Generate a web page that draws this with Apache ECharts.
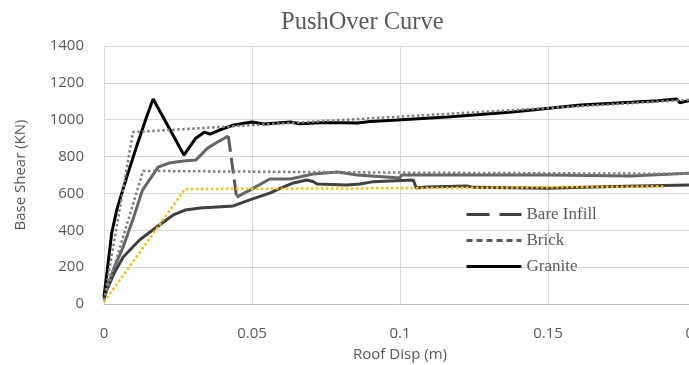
<!DOCTYPE html>
<html>
<head>
<meta charset="utf-8">
<title>PushOver Curve</title>
<script src="https://cdn.jsdelivr.net/npm/echarts@6/dist/echarts.min.js"></script>
<style>
  html, body { margin: 0; padding: 0; background: #fff; }
  #chart { width: 689px; height: 365px; }
</style>
</head>
<body>
<div id="chart"></div>
<script>
// tick values
const xTicks = [0, 0.05, 0.1, 0.15, 0.2];
const yTicks = [0, 200, 400, 600, 800, 1000, 1200, 1400];

// Granite curve
const graniteX = [0, 0.0007, 0.0026, 0.0043, 0.0077, 0.011, 0.0144, 0.0166, 0.027, 0.031, 0.034, 0.0358, 0.039, 0.0437, 0.05, 0.054, 0.063, 0.066, 0.075, 0.0855, 0.09, 0.099, 0.116, 0.138, 0.161, 0.187, 0.1935, 0.1945, 0.1976, 0.2];
const graniteY = [40, 130, 385, 510, 690, 855, 1016, 1112, 808, 900, 933, 922, 944, 971, 988, 977, 988, 978, 985, 982, 990, 998, 1015, 1042, 1080, 1103, 1112, 1092, 1103, 1105];
// Granite bilinear
const graniteBiX = [0, 0.0098, 0.2];
const graniteBiY = [20, 933, 1110];

// Bare Infill curve (bareDrop = start of the drop segment)
const bareX = [0, 0.0008, 0.0035, 0.0065, 0.01, 0.013, 0.0183, 0.022, 0.0268, 0.031, 0.035, 0.0385, 0.042, 0.0448, 0.0493, 0.056, 0.063, 0.0706, 0.079, 0.0855, 0.1, 0.1005, 0.116, 0.15, 0.178, 0.192, 0.2];
const bareY = [30, 80, 200, 310, 470, 618, 743, 765, 776, 781, 846, 880, 912, 580, 618, 678, 678, 705, 716, 700, 684, 700, 700, 700, 694, 705, 712];
const bareDrop = 12;
// Bare Infill bilinear
const bareBiX = [0, 0.0132, 0.1, 0.2];
const bareBiY = [20, 722, 713, 706];

// Brick curve
const brickX = [0, 0.0008, 0.0035, 0.0065, 0.012, 0.0178, 0.0234, 0.0274, 0.0325, 0.0437, 0.049, 0.056, 0.0595, 0.064, 0.0685, 0.0706, 0.072, 0.082, 0.0865, 0.091, 0.1045, 0.1055, 0.109, 0.1226, 0.1247, 0.15, 0.172, 0.2];
const brickY = [30, 70, 170, 255, 347, 418, 483, 510, 521, 532, 564, 602, 628, 657, 673, 665, 651, 646, 651, 664, 673, 629, 635, 640, 633, 628, 637, 647];
// Brick bilinear
const brickBiX = [0, 0.0274, 0.1, 0.189];
const brickBiY = [10, 624, 628, 638];

function pairs(xs, ys) {
  return xs.map((x, i) => [x, ys[i]]);
}

const barePts = pairs(bareX, bareY);
const bareSolid = barePts.slice(0, bareDrop + 1).concat([["-", "-"]], barePts.slice(bareDrop + 1));
const bareDashed = barePts.slice(bareDrop, bareDrop + 2);

const axisFont = { fontFamily: "Open Sans", fontSize: 15, color: "#595959" };
const dots = [2.5, 2.5];
const plain = (v) => String(v);

const chart = echarts.init(document.getElementById("chart"));
const option = {
  backgroundColor: "#fff",
  animation: false,
  title: {
    text: "PushOver Curve",
    left: 281,
    top: 10,
    padding: 0,
    textStyle: { fontFamily: "Liberation Serif", fontSize: 24.5, fontWeight: "normal", color: "#595959" },
  },
  grid: { left: 104, right: -7, top: 46, bottom: 61, outerBoundsMode: "none", containLabel: false },
  legend: {
    orient: "vertical",
    left: 465,
    top: 206,
    padding: 0,
    itemWidth: 55,
    itemHeight: 14,
    itemGap: 9,
    itemStyle: { color: "rgba(0,0,0,0)", borderColor: "rgba(0,0,0,0)", borderWidth: 0 },
    lineStyle: { width: 3 },
    textStyle: { fontFamily: "Liberation Serif", fontSize: 17, color: "#595959" },
    data: [
      { name: "Bare Infill", lineStyle: { type: [23, 10], color: "#404040" } },
      { name: "Brick", lineStyle: { type: [6, 4], color: "#595959" } },
      { name: "Granite", lineStyle: { color: "#000000" } },
    ],
  },
  xAxis: {
    type: "value",
    min: xTicks[0],
    max: xTicks[xTicks.length - 1],
    interval: xTicks[1] - xTicks[0],
    name: "Roof Disp (m)",
    nameLocation: "middle",
    nameGap: 43,
    nameTextStyle: axisFont,
    axisLine: { show: true, lineStyle: { color: "#bfbfbf", width: 1 } },
    axisTick: { show: false },
    axisLabel: Object.assign({ margin: 22, showMaxLabel: true, formatter: plain }, axisFont),
    splitLine: { show: true, lineStyle: { color: "#d9d9d9", width: 1 } },
  },
  yAxis: {
    type: "value",
    min: yTicks[0],
    max: yTicks[yTicks.length - 1],
    interval: yTicks[1] - yTicks[0],
    name: "Base Shear (KN)",
    nameLocation: "middle",
    nameRotate: 90,
    nameGap: 76,
    nameTextStyle: axisFont,
    axisLine: { show: true, lineStyle: { color: "#d9d9d9", width: 1 } },
    axisTick: { show: false },
    axisLabel: Object.assign({ margin: 20, formatter: plain }, axisFont),
    splitLine: { show: true, lineStyle: { color: "#d9d9d9", width: 1 } },
  },
  series: [
    {
      name: "Bare Infill",
      type: "line",
      symbol: "none",
      data: bareDashed,
      itemStyle: { color: "#595959" },
      lineStyle: { color: "#595959", width: 3, type: [16, 6] },
    },
    {
      name: "Bare Infill",
      type: "line",
      symbol: "none",
      connectNulls: false,
      data: bareSolid,
      itemStyle: { color: "#666666" },
      lineStyle: { color: "#666666", width: 3 },
    },
    {
      name: "Brick",
      type: "line",
      symbol: "none",
      data: pairs(brickX, brickY),
      itemStyle: { color: "#404040" },
      lineStyle: { color: "#404040", width: 3 },
    },
    {
      name: "Granite",
      type: "line",
      symbol: "none",
      data: pairs(graniteX, graniteY),
      itemStyle: { color: "#000000" },
      lineStyle: { color: "#000000", width: 3 },
    },
    {
      name: "Granite bilinear",
      type: "line",
      symbol: "none",
      data: pairs(graniteBiX, graniteBiY),
      lineStyle: { color: "#808080", width: 2.5, type: dots },
    },
    {
      name: "Bare Infill bilinear",
      type: "line",
      symbol: "none",
      data: pairs(bareBiX, bareBiY),
      lineStyle: { color: "#808080", width: 2.5, type: dots },
    },
    {
      name: "Brick bilinear",
      type: "line",
      symbol: "none",
      data: pairs(brickBiX, brickBiY),
      lineStyle: { color: "#ffc000", width: 2.5, type: dots },
    },
  ],
};
chart.setOption(option);
</script>
</body>
</html>
